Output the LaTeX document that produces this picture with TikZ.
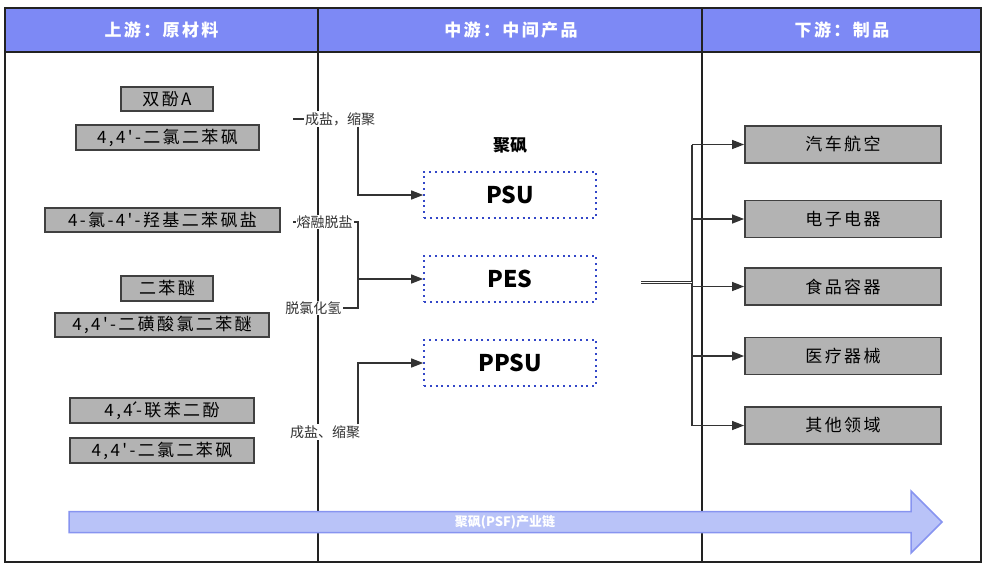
\documentclass[tikz,border=0pt]{standalone}
\usepackage{fontspec}
\setmainfont{Noto Sans CJK SC}
\newfontfamily\boxfont{Noto Sans CJK SC}[LetterSpace=14]
\newfontfamily\headfont{Noto Sans CJK SC}[LetterSpace=14]
\usetikzlibrary{arrows.meta}
\definecolor{hdr}{HTML}{7D89F5}
\definecolor{frm}{HTML}{222222}
\definecolor{bdr}{HTML}{404040}
\definecolor{boxgray}{HTML}{B3B3B3}
\definecolor{dotblue}{HTML}{3347C8}
\definecolor{lbl}{HTML}{333333}
\definecolor{cn}{HTML}{333333}
\definecolor{arrfill}{HTML}{B9C3F8}
\definecolor{arrdraw}{HTML}{8794F0}
\tikzset{
 frame/.style={draw=frm, line width=1.8pt},
 hdrtext/.style={text=white, inner sep=0pt, font=\headfont\bfseries\fontsize{17}{17}\selectfont},
 rawbox/.style={draw=bdr, fill=boxgray, line width=1.8pt, inner sep=0pt, minimum height=25pt, font=\boxfont\fontsize{17}{17}\selectfont},
 prodbox/.style={rawbox, minimum width=196pt, minimum height=37pt},
 polybox/.style={draw=dotblue, dash pattern=on 2pt off 3.8pt, line width=1.6pt, minimum width=172pt, minimum height=46pt, inner sep=0pt, font=\bfseries\fontsize{23}{23}\selectfont},
 titletext/.style={inner sep=0pt, font=\bfseries\fontsize{17}{17}\selectfont},
 steplabel/.style={fill=white, inner sep=1pt, text=lbl, font=\fontsize{14}{14}\selectfont},
 conn/.style={draw=cn, line width=1.3pt},
 arrowtip/.style={-{Triangle[length=12pt,width=9pt]}},
 bigarrow/.style={draw=arrdraw, fill=arrfill, line width=1.5pt},
 arrowlabel/.style={text=white, inner sep=0pt, font=\bfseries\fontsize{13}{13}\selectfont},
}
\begin{document}
\begin{tikzpicture}[x=1pt,y=-1pt]
\useasboundingbox (0,0) rectangle (991,573);
% frame and header
\fill[hdr] (5,8) rectangle (981,52);
\draw[frame] (5,8) rectangle (981,562);
\draw[frame] (5,52) -- (981,52);
\draw[frame] (318,8) -- (318,562);
\draw[frame] (702,8) -- (702,562);
\node[hdrtext] (h1) at (161.5,30) {上游：原材料};
\node[hdrtext] (h2) at (511,30) {中游：中间产品};
\node[hdrtext] (h3) at (842,30) {下游：制品};
% raw materials
\node[rawbox, minimum width=92pt, minimum height=24pt] (bpa) at (167,99) {双酚A};
\node[rawbox, minimum width=183pt] (dcdps1) at (167.5,137.5) {4,4'-二氯二苯砜};
\node[rawbox, minimum width=235pt, minimum height=24pt] (clhs) at (162.5,220) {4-氯-4'-羟基二苯砜盐};
\node[rawbox, minimum width=92pt] (dpe) at (167,288.5) {二苯醚};
\node[rawbox, minimum width=214pt, minimum height=24pt] (dsc) at (162,325) {4,4'-二磺酸氯二苯醚};
\node[rawbox, minimum width=184pt] (bp) at (162,410.5) {4,4\kern-4pt´\kern-3pt-联苯二酚};
\node[rawbox, minimum width=184pt] (dcdps2) at (162,450.5) {4,4'-二氯二苯砜};
% intermediate products
\node[titletext] (title) at (510,145) {聚砜};
\node[polybox] (psu) at (510,195) {PSU};
\node[polybox] (pes) at (510,279) {PES};
\node[polybox] (ppsu) at (510,363) {PPSU};
% process labels
\node[steplabel] (l1) at (340,119) {成盐，缩聚};
\node[steplabel] (l2) at (324.7,222) {熔融脱盐};
\node[steplabel] (l3) at (313.3,308) {脱氯化氢};
\node[steplabel] (l4) at (325,432) {成盐、缩聚};
\coordinate (s1) at (293,119);
\coordinate (s2) at (293,222);
\draw[conn] (s1) -- (l1.west);
\draw[conn] (s2) -- (l2.west);
\coordinate (b1) at (358,0);
\coordinate (b2) at (358,279);
\draw[conn, arrowtip] (l1.south -| b1) |- (psu.west);
\draw[conn] (l2.east) -| (b2) |- (l3.east);
\draw[conn, arrowtip] (b2) -- (pes.west);
\draw[conn, arrowtip] (l4.north -| b1) |- (ppsu.west);
% products
\node[prodbox] (p1) at (843,144.5) {汽车航空};
\node[prodbox] (p2) at (843,219) {电子电器};
\node[prodbox] (p3) at (843,286.5) {食品容器};
\node[prodbox] (p4) at (843,356) {医疗器械};
\node[prodbox] (p5) at (843,425.5) {其他领域};
\coordinate (bus) at (692,0);
\draw[conn] (p1.west -| bus) -- (p5.west -| bus);
\foreach \p in {p1,p2,p3,p4,p5} {
  \draw[conn, arrowtip] (\p.west -| bus) -- (\p.west);
}
\coordinate (dl) at (641,282.5);
\draw[conn, double=white, double distance=1pt, line width=0.9pt] (dl) -- (dl -| bus);
% big arrow
\draw[bigarrow] (69,511.5) -- (911,511.5) -- (911,491) -- (942,522) -- (911,553) -- (911,532.5) -- (69,532.5) -- cycle;
\node[arrowlabel] (chain) at (505,522.5) {聚砜(PSF)产业链};
\end{tikzpicture}
\end{document}
